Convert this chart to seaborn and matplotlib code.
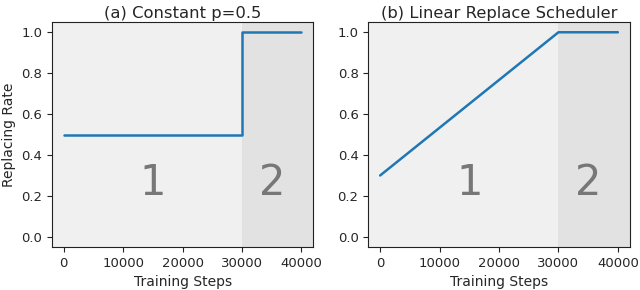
import matplotlib
matplotlib.use('Agg')
import matplotlib.pyplot as plt
import pandas as pd
import seaborn as sns

# data
steps_a = [0, 30000, 30000, 40000]
rate_a = [0.5, 0.5, 1.0, 1.0]
steps_b = [0, 30000, 40000]
rate_b = [0.3, 1.0, 1.0]
titles = ['(a) Constant p=0.5', '(b) Linear Replace Scheduler']
phase_labels = ['1', '2']

sns.set_style('ticks')
plt.rcParams['font.family'] = ['DejaVu Sans']

fig, axes = plt.subplots(1, 2, figsize=(6.4, 2.9), dpi=100)
fig.subplots_adjust(left=0.081, right=0.984, bottom=0.148, top=0.924, wspace=0.21)

for ax, xs, ys, title in zip(axes, [steps_a, steps_b], [rate_a, rate_b], titles):
    df = pd.DataFrame({'step': xs, 'rate': ys})
    ax.set_facecolor('#f0f0f0')
    ax.axvspan(30000, 50000, color='#e2e2e2', lw=0, zorder=0)
    sns.lineplot(data=df, x='step', y='rate', sort=False, estimator=None,
                 color='#1f77b4', lw=1.8, ax=ax)
    ax.text(15000, 0.265, phase_labels[0], fontsize=30, color='#777777',
            ha='center', va='center')
    ax.text(35000, 0.265, phase_labels[1], fontsize=30, color='#777777',
            ha='center', va='center')
    ax.set_xlim(-2000, 42000)
    ax.set_ylim(-0.05, 1.05)
    ax.set_xticks([0, 10000, 20000, 30000, 40000])
    ax.set_yticks([0.0, 0.2, 0.4, 0.6, 0.8, 1.0])
    ax.set_yticklabels(['0.0', '0.2', '0.4', '0.6', '0.8', '1.0'])
    ax.tick_params(labelsize=9.5, length=3.5, width=0.8, color='#222222')
    for s in ax.spines.values():
        s.set_visible(True)
        s.set_color('#222222')
        s.set_linewidth(0.8)
    ax.set_xlabel('Training Steps', fontsize=10, labelpad=4)
    ax.set_ylabel('')
    ax.set_title(title, fontsize=11.8, pad=3)

axes[0].set_ylabel('Replacing Rate', fontsize=10)

plt.savefig('out.png', dpi=100)
